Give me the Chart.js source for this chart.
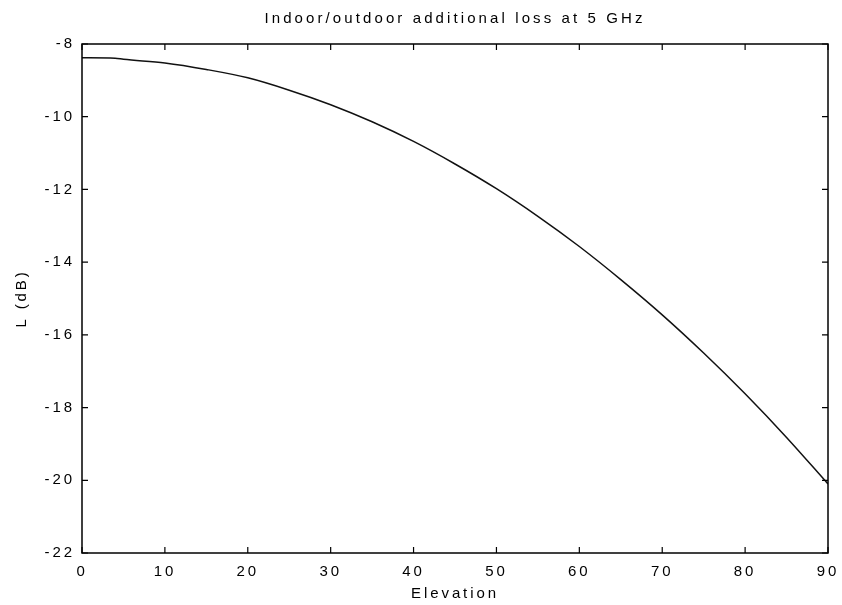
<!DOCTYPE html>
<html>
<head>
<meta charset="utf-8">
<script src="https://cdn.jsdelivr.net/npm/chart.js@4.4.1/dist/chart.umd.min.js"></script>
<style>
  html, body { margin: 0; padding: 0; background: #fff; }
</style>
</head>
<body>
<canvas id="chart" width="842" height="605"></canvas>
<script>
// values
const elevation = [0, 4, 5, 10, 15, 20, 25, 30, 35, 40, 45, 50, 55, 60, 65, 70, 75, 80, 85, 90];
const loss = [-8.38, -8.39, -8.42, -8.52, -8.70, -8.93, -9.27, -9.67, -10.14, -10.68,
  -11.30, -11.98, -12.74, -13.57, -14.48, -15.45, -16.50, -17.62, -18.82, -20.10];
const xTicks = [0, 10, 20, 30, 40, 50, 60, 70, 80, 90];
const yTicks = [-22, -20, -18, -16, -14, -12, -10, -8];

const titleText = "Indoor/outdoor additional loss at 5 GHz";
const font = "'Liberation Sans', Arial, sans-serif";

// MATLAB style: boxed axes, ticks pointing inwards, spaced text
const boxPlugin = {
  id: "box",
  beforeDraw(chart) {
    chart.ctx.letterSpacing = "2.9px";
  },
  afterDraw(chart) {
    const { ctx, chartArea: a } = chart;
    const xs = chart.scales.x;
    const ys = chart.scales.y;
    ctx.save();
    ctx.strokeStyle = "#000";
    ctx.lineWidth = 1.5;
    ctx.strokeRect(a.left, a.top, a.right - a.left, a.bottom - a.top);
    ctx.lineWidth = 1.2;
    ctx.beginPath();
    xTicks.forEach((v) => {
      const px = xs.getPixelForValue(v);
      ctx.moveTo(px, a.bottom); ctx.lineTo(px, a.bottom - 6);
      ctx.moveTo(px, a.top); ctx.lineTo(px, a.top + 6);
    });
    yTicks.forEach((v) => {
      const py = ys.getPixelForValue(v);
      ctx.moveTo(a.left, py); ctx.lineTo(a.left + 6, py);
      ctx.moveTo(a.right, py); ctx.lineTo(a.right - 6, py);
    });
    ctx.stroke();

    ctx.fillStyle = "#000";
    ctx.font = "15px " + font;
    ctx.textAlign = "center";
    ctx.textBaseline = "middle";
    ctx.letterSpacing = "3.1px";
    ctx.fillText(titleText, (a.left + a.right) / 2, 19);
    ctx.restore();
  },
};

new Chart(document.getElementById("chart"), {
  type: "line",
  data: {
    datasets: [{
      data: elevation.map((e, i) => ({ x: e, y: loss[i] })),
      borderColor: "#111",
      borderWidth: 1.5,
      pointRadius: 0,
      cubicInterpolationMode: "monotone",
      fill: false,
    }],
  },
  options: {
    responsive: false,
    animation: false,
    layout: { padding: { top: 44, right: 14, left: 0, bottom: 0 } },
    plugins: { legend: { display: false }, tooltip: { enabled: false }, title: { display: false } },
    scales: {
      x: {
        type: "linear",
        min: 0,
        max: 90,
        afterBuildTicks: (s) => { s.ticks = xTicks.map((v) => ({ value: v })); },
        afterFit: (s) => { s.height = 52; s.paddingLeft = 0; s.paddingRight = 0; },
        grid: { display: false, drawTicks: false },
        border: { display: false },
        ticks: { color: "#000", padding: 10, font: { family: font, size: 15 } },
        title: {
          display: true, text: "Elevation", color: "#000",
          font: { family: font, size: 15 }, padding: { top: 0, bottom: 2 },
        },
      },
      y: {
        type: "linear",
        min: -22,
        max: -8,
        afterBuildTicks: (s) => { s.ticks = yTicks.map((v) => ({ value: v })); },
        afterFit: (s) => { s.width = 82; s.paddingTop = 0; s.paddingBottom = 0; },
        grid: { display: false, drawTicks: false },
        border: { display: false },
        ticks: { color: "#000", padding: 7, font: { family: font, size: 15 } },
        title: {
          display: true, text: "L (dB)", color: "#000",
          font: { family: font, size: 15 }, padding: { top: 13, bottom: 0 },
        },
      },
    },
  },
  plugins: [boxPlugin],
});
</script>
</body>
</html>
